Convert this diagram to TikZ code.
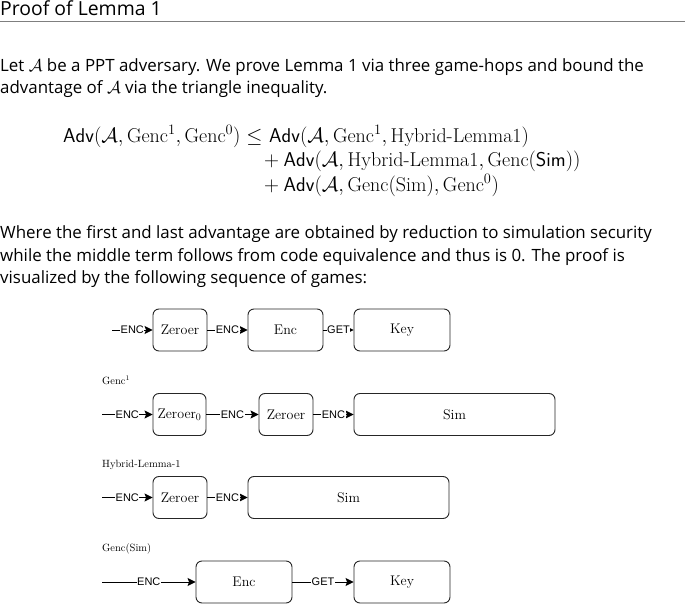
\documentclass[tikz,border=0pt]{standalone}
\usepackage{amsmath,amssymb}
\usepackage{fontspec}
\usepackage{tikz}
\usetikzlibrary{arrows.meta}
\newfontfamily\bodyfont{Open Sans}
\newfontfamily\msgfont{Liberation Sans}
\definecolor{rulegray}{HTML}{7F7F7F}
\definecolor{boxline}{HTML}{262626}

\begin{document}
\begin{tikzpicture}[x=1pt,y=-1pt,
    game/.style={draw=boxline,line width=0.9pt,rounded corners=6pt,minimum height=42pt,inner sep=0pt,font=\fontsize{14}{16}\selectfont},
    msg/.style={-{Stealth[length=8pt,width=8pt,inset=1.5pt]},line width=0.9pt},
    msglbl/.style={midway,fill=white,inner sep=0.6pt,font=\msgfont\fontsize{11}{12}\selectfont},
    para/.style={anchor=base west,inner sep=0pt,font=\bodyfont\fontsize{16.9}{20}\selectfont},
    eqn/.style={anchor=base west,inner sep=0pt,font=\fontsize{20}{24}\selectfont},
    gamename/.style={anchor=base west,inner sep=0pt,font=\fontsize{10.5}{12}\selectfont}]
  \useasboundingbox (0,0) rectangle (685,604);
  % heading
  \node[anchor=base west,inner sep=0pt,font=\bodyfont\fontsize{19.4}{22}\selectfont] (title) at (0,16) {Proof of Lemma 1};
  \draw[rulegray,line width=0.8pt] (0,21.5) -- (685,21.5);
  % text
  \node[para] (p1) at (0,72) {Let $\mathcal{A}$ be a PPT adversary. We prove Lemma 1 via three game-hops and bound the};
  \node[para] (p2) at (0,94) {advantage of $\mathcal{A}$ via the triangle inequality.};
  \node[eqn] (lhs) at (63,143) {$\mathsf{Adv}(\mathcal{A},\mathrm{Genc}^1,\mathrm{Genc}^0)\leq$};
  \node[eqn] (r1) at (269,143) {$\mathsf{Adv}(\mathcal{A},\mathrm{Genc}^1,\text{Hybrid-Lemma1})$};
  \node[eqn] (r2) at (264,167) {$+\:\mathsf{Adv}(\mathcal{A},\text{Hybrid-Lemma1},\mathrm{Genc}(\mathsf{Sim}))$};
  \node[eqn] (r3) at (264,192) {$+\:\mathsf{Adv}(\mathcal{A},\mathrm{Genc}(\mathrm{Sim}),\mathrm{Genc}^0)$};
  \node[para] (p3) at (0,238) {Where the first and last advantage are obtained by reduction to simulation security};
  \node[para] (p4) at (0,261) {while the middle term follows from code equivalence and thus is 0. The proof is};
  \node[para] (p5) at (0,283) {visualized by the following sequence of games:};
  % Genc^0
  \coordinate (in1) at (112,330);
  \node[game,minimum width=54pt] (zer1) at (180,330) {Zeroer};
  \node[game,minimum width=75pt] (enc1) at (285.5,330) {Enc};
  \node[game,minimum width=96pt] (key1) at (402,330) {Key};
  \draw[msg] (in1) -- (zer1) node[msglbl] {ENC};
  \draw[msg] (zer1) -- (enc1) node[msglbl] {ENC};
  \draw[msg] (enc1) -- (key1) node[msglbl] {GET};
  % Genc^1
  \node[gamename] (gname1) at (102,384) {Genc$^1$};
  \coordinate (in2) at (102,414.5);
  \node[game,minimum width=53pt] (zer0) at (179.5,414.5) {Zeroer$_0$};
  \node[game,minimum width=54pt] (zer2) at (286,414.5) {Zeroer};
  \node[game,minimum width=201pt] (sim2) at (454.5,414.5) {Sim};
  \draw[msg] (in2) -- (zer0) node[msglbl] {ENC};
  \draw[msg] (zer0) -- (zer2) node[msglbl] {ENC};
  \draw[msg] (zer2) -- (sim2) node[msglbl] {ENC};
  % Hybrid-Lemma-1
  \node[gamename] (gname2) at (102,467) {Hybrid-Lemma-1};
  \coordinate (in3) at (102,497.5);
  \node[game,minimum width=54pt] (zer3) at (180,497.5) {Zeroer};
  \node[game,minimum width=201pt] (sim3) at (348.5,497.5) {Sim};
  \draw[msg] (in3) -- (zer3) node[msglbl] {ENC};
  \draw[msg] (zer3) -- (sim3) node[msglbl] {ENC};
  % Genc(Sim)
  \node[gamename] (gname3) at (102,551) {Genc(Sim)};
  \coordinate (in4) at (102,582);
  \node[game,minimum width=96pt] (enc4) at (244,582) {Enc};
  \node[game,minimum width=96pt] (key4) at (402,582) {Key};
  \draw[msg] (in4) -- (enc4) node[msglbl] {ENC};
  \draw[msg] (enc4) -- (key4) node[msglbl] {GET};
\end{tikzpicture}
\end{document}
